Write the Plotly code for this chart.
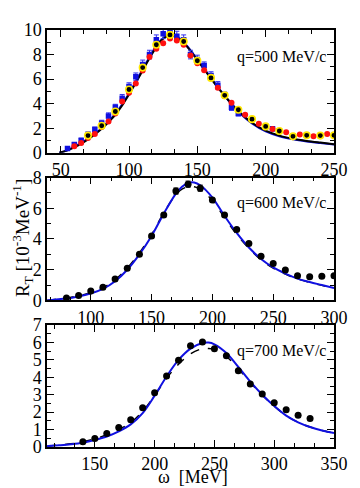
import plotly.graph_objects as go
from plotly.subplots import make_subplots

# -----------------------------------------------------
# q = 500 MeV/c panel
# -----------------------------------------------------

w500_curve = [49, 55, 60, 65, 70, 75, 80, 85, 90, 95, 100, 105, 110, 115, 120, 125, 130, 135,
              140, 145, 150, 155, 160, 165, 170, 175, 180, 190, 200, 210, 220, 230, 240, 250]
rt500_black = [0.0, 0.2, 0.45, 0.75, 1.1, 1.5, 1.95, 2.5, 3.1, 3.85, 4.75, 5.7, 6.7, 7.7, 8.6,
               9.3, 9.55, 9.4, 8.95, 8.3, 7.55, 6.8, 6.05, 5.3, 4.65, 4.0, 3.4, 2.45, 1.8,
               1.4, 1.15, 0.97, 0.83, 0.7]
rt500_blue = [0.0, 0.22, 0.5, 0.8, 1.15, 1.55, 2.0, 2.55, 3.2, 3.95, 4.85, 5.8, 6.8, 7.8, 8.7,
              9.35, 9.6, 9.45, 9.0, 8.35, 7.6, 6.85, 6.1, 5.35, 4.65, 3.95, 3.35, 2.4, 1.75,
              1.35, 1.1, 0.93, 0.8, 0.68]

w500_sq = [55, 60, 65, 70, 75, 80, 85, 90, 95, 100, 105, 110, 115, 120, 125, 130, 135, 140,
           145, 150, 155, 160, 165, 170, 175, 180, 205]
rt500_sq = [0.35, 0.67, 1.0, 1.5, 1.9, 2.4, 3.0, 3.7, 4.45, 5.4, 6.2, 7.2, 8.0, 9.2, 9.7, 9.9,
            9.5, 9.2, 8.0, 7.6, 7.1, 6.3, 5.5, 4.7, 3.7, 3.2, 1.95]
err500_sq = [0.15, 0.15, 0.2, 0.2, 0.2, 0.25, 0.25, 0.25, 0.3, 0.3, 0.3, 0.35, 0.35, 0.4, 0.4,
             0.4, 0.4, 0.4, 0.35, 0.35, 0.3, 0.3, 0.3, 0.25, 0.25, 0.2, 0.15]

w500_red = [60, 65, 70, 75, 80, 85, 90, 95, 100, 105, 110, 115, 120, 125, 130, 135, 140, 145,
            150, 155, 165, 175, 185, 195, 205, 215, 225, 235, 245]
rt500_red = [0.54, 0.8, 1.2, 1.53, 2.1, 2.55, 3.2, 4.17, 4.9, 5.65, 6.7, 7.8, 8.47, 8.92, 9.3,
             9.14, 8.8, 7.93, 7.3, 6.72, 5.3, 4.08, 3.09, 2.37, 1.94, 1.67, 1.5, 1.35, 1.53]

w500_yk = [70, 80, 90, 100, 110, 120, 130, 140, 150, 160, 170, 180, 190, 200, 210, 220, 230,
           240, 250]
rt500_yk = [1.4, 2.2, 3.36, 5.16, 6.94, 8.8, 9.6, 9.06, 7.5, 6.1, 4.68, 3.5, 2.74, 2.15, 1.77,
            1.34, 1.42, 1.4, 1.42]

# -----------------------------------------------------
# q = 600 MeV/c panel
# -----------------------------------------------------

w600_curve = [64, 70, 80, 90, 100, 110, 120, 130, 140, 150, 160, 170, 175, 180, 185, 190, 200,
              210, 220, 230, 240, 250, 260, 270, 280, 290, 300]
rt600_blue = [0.0, 0.05, 0.12, 0.26, 0.45, 0.75, 1.25, 2.0, 3.0, 4.2, 5.65, 6.95, 7.4, 7.65,
              7.68, 7.5, 6.7, 5.5, 4.4, 3.45, 2.7, 2.15, 1.75, 1.42, 1.2, 1.0, 0.8]
rt600_black = [0.0, 0.06, 0.15, 0.3, 0.5, 0.82, 1.35, 2.1, 3.1, 4.3, 5.7, 6.9, 7.25, 7.4, 7.4,
               7.25, 6.5, 5.4, 4.3, 3.4, 2.65, 2.1, 1.72, 1.4, 1.18, 0.98, 0.8]

w600_data = [80, 90, 100, 110, 120, 130, 140, 150, 160, 170, 180, 190, 200, 210, 220, 230, 240,
             250, 260, 270, 280, 290, 300]
rt600_data = [0.15, 0.32, 0.62, 0.86, 1.4, 2.1, 3.0, 4.2, 5.57, 7.12, 7.57, 7.31, 6.54, 5.57,
              4.62, 3.7, 2.88, 2.41, 1.98, 1.61, 1.55, 1.57, 1.61]
err600_data = [0.05, 0.05, 0.05, 0.05, 0.05, 0.05, 0.08, 0.1, 0.12, 0.2, 0.2, 0.2, 0.12, 0.1,
               0.08, 0.06, 0.05, 0.05, 0.05, 0.05, 0.05, 0.05, 0.05]

# -----------------------------------------------------
# q = 700 MeV/c panel
# -----------------------------------------------------

w700_curve = [110, 120, 130, 140, 150, 160, 170, 180, 190, 200, 210, 220, 230, 240, 245, 250,
              260, 270, 280, 290, 300, 310, 320, 330, 340, 350]
rt700_blue = [0.05, 0.1, 0.16, 0.25, 0.4, 0.6, 0.9, 1.3, 1.95, 2.95, 4.05, 5.0, 5.65, 5.97,
              6.0, 5.9, 5.4, 4.6, 3.75, 3.0, 2.35, 1.8, 1.42, 1.15, 0.95, 0.8]
rt700_black = [0.05, 0.11, 0.18, 0.3, 0.47, 0.7, 1.0, 1.4, 2.05, 2.95, 3.95, 4.75, 5.35, 5.65,
               5.66, 5.6, 5.2, 4.5, 3.7, 2.98, 2.35, 1.8, 1.42, 1.15, 0.95, 0.8]

w700_data = [140, 150, 160, 170, 180, 190, 200, 210, 220, 230, 240, 250, 260, 270, 280, 290,
             300, 310, 320, 330]
rt700_data = [0.3, 0.49, 0.78, 1.12, 1.57, 2.26, 3.11, 4.08, 4.99, 5.82, 6.03, 5.65, 5.24,
              4.38, 3.62, 3.05, 2.54, 2.14, 1.82, 1.63]

# =====================================================
# Figure
# =====================================================

FONT = "Liberation Serif"
BLUE = "#1010e0"

fig = make_subplots(rows=3, cols=1)

# --- panel 1
fig.add_trace(go.Scatter(x=w500_curve, y=rt500_blue, mode="lines", line_shape="spline",
                         line=dict(color=BLUE, width=2)), row=1, col=1)
fig.add_trace(go.Scatter(x=w500_curve, y=rt500_black, mode="lines", line_shape="spline",
                         line=dict(color="black", width=2)), row=1, col=1)
fig.add_trace(go.Scatter(x=w500_sq, y=rt500_sq, mode="markers",
                         marker=dict(symbol="square", size=5.5, color=BLUE),
                         error_y=dict(type="data", array=err500_sq, color="#3030f0",
                                      thickness=1, width=2.5)), row=1, col=1)
fig.add_trace(go.Scatter(x=w500_red, y=rt500_red, mode="markers",
                         marker=dict(symbol="circle", size=6, color="#ff1010")), row=1, col=1)
fig.add_trace(go.Scatter(x=w500_yk, y=rt500_yk, mode="markers",
                         marker=dict(symbol="circle", size=6.5, color="black",
                                     line=dict(color="#ffe800", width=1.6))), row=1, col=1)

# --- panel 2
fig.add_trace(go.Scatter(x=w600_curve, y=rt600_black, mode="lines", line_shape="spline",
                         line=dict(color="black", width=1.5, dash="dash")), row=2, col=1)
fig.add_trace(go.Scatter(x=w600_curve, y=rt600_blue, mode="lines", line_shape="spline",
                         line=dict(color=BLUE, width=2)), row=2, col=1)
fig.add_trace(go.Scatter(x=w600_data, y=rt600_data, mode="markers",
                         marker=dict(symbol="circle", size=7, color="black"),
                         error_y=dict(type="data", array=err600_data, color="black",
                                      thickness=1, width=2.5)), row=2, col=1)

# --- panel 3
fig.add_trace(go.Scatter(x=w700_curve, y=rt700_black, mode="lines", line_shape="spline",
                         line=dict(color="black", width=1.5, dash="dash")), row=3, col=1)
fig.add_trace(go.Scatter(x=w700_curve, y=rt700_blue, mode="lines", line_shape="spline",
                         line=dict(color=BLUE, width=2)), row=3, col=1)
fig.add_trace(go.Scatter(x=w700_data, y=rt700_data, mode="markers",
                         marker=dict(symbol="circle", size=7, color="black")), row=3, col=1)

# =====================================================
# Axes
# =====================================================

axis_style = dict(
    showline=True, linecolor="black", linewidth=1.5, mirror="ticks",
    ticks="inside", ticklen=7, tickwidth=1, tickcolor="black",
    showgrid=False, zeroline=False,
    tickfont=dict(family=FONT, size=18, color="black"),
)

x_ranges = [[40, 250], [64, 300], [110, 350]]
x_dticks = [50, 50, 50]
y_ranges = [[0, 10], [0, 8], [0, 7]]
y_dticks = [2, 2, 1]
y_domains = [[0.7055, 1.0], [0.3515, 0.6461], [0.0, 0.2922]]

for i in range(3):
    fig.update_xaxes(axis_style, range=x_ranges[i], dtick=x_dticks[i], tick0=0,
                     minor=dict(ticks="inside", ticklen=4, dtick=x_dticks[i] / 3,
                                tickcolor="black"),
                     row=i + 1, col=1)
    fig.update_yaxes(axis_style, range=y_ranges[i], dtick=y_dticks[i], tick0=0,
                     domain=y_domains[i],
                     minor=dict(ticks="inside", ticklen=4, dtick=y_dticks[i] / 2,
                                tickcolor="black"),
                     row=i + 1, col=1)

# =====================================================
# Labels
# =====================================================

labels = ["q=500 MeV/c", "q=600 MeV/c", "q=700 MeV/c"]
label_y = [0.78, 0.79, 0.79]
for i, txt in enumerate(labels):
    xref = "x domain" if i == 0 else f"x{i + 1} domain"
    yref = "y domain" if i == 0 else f"y{i + 1} domain"
    fig.add_annotation(text=txt, xref=xref, yref=yref, x=0.98, y=label_y[i],
                       xanchor="right", yanchor="middle", showarrow=False,
                       font=dict(family=FONT, size=16, color="black"))

fig.add_annotation(text="R<sub>T</sub> [10<sup>-3</sup>MeV<sup>-1</sup>]",
                   xref="paper", yref="paper", x=-0.085, y=0.5, xanchor="center",
                   yanchor="middle", textangle=-90, showarrow=False,
                   font=dict(family=FONT, size=19, color="black"))

fig.add_annotation(text="ω  [MeV]", xref="paper", yref="paper", x=0.51, y=-0.073,
                   xanchor="center", yanchor="middle", showarrow=False,
                   font=dict(family=FONT, size=18, color="black"))

# the page puts the figure 8px down and right, so the size is trimmed to match
fig.update_layout(
    width=352, height=480,
    margin=dict(l=39, r=15, t=18, b=41),
    paper_bgcolor="white", plot_bgcolor="white",
    showlegend=False,
)

fig.write_html("out.html")
